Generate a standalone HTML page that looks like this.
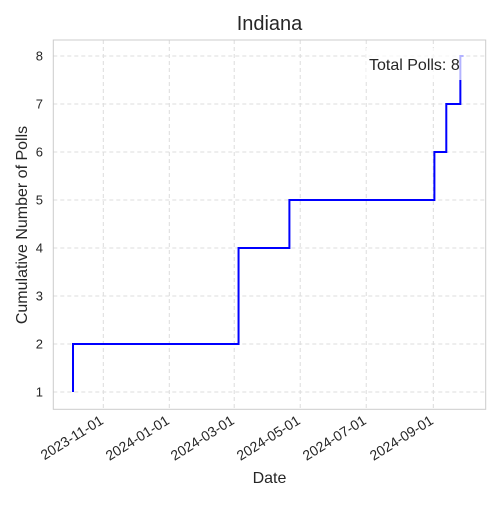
<!DOCTYPE html>
<html><head><meta charset="utf-8"><style>
body{margin:0;background:#fff;font-family:"Liberation Sans","DejaVu Sans",sans-serif}
</style></head><body>
<svg id="c" width="500" height="500" xmlns="http://www.w3.org/2000/svg">
<rect width="500" height="500" fill="#fff"/>
<g id="grid"></g>
<rect x="53.3" y="40" width="432.4" height="369.3" fill="none" stroke="#ccc" stroke-width="1"/>
<g id="ticks"></g>
<path id="line" fill="none" stroke="#0000ff" stroke-width="2"/>
<rect x="366" y="48" width="98" height="32" fill="#fff" fill-opacity="0.7"/>
<text x="369" y="70" font-size="16" fill="#262626">Total Polls: 8</text>
<text x="269.5" y="30" font-size="20" text-anchor="middle" fill="#262626">Indiana</text>
<text x="269.5" y="483" font-size="16" text-anchor="middle" fill="#262626">Date</text>
<text transform="translate(27,225) rotate(-90)" font-size="16" text-anchor="middle" fill="#262626">Cumulative Number of Polls</text>
</svg>
<script>
const pollDates=["2023-10-04","2023-10-04","2024-03-05","2024-03-05","2024-04-21","2024-09-02","2024-09-13","2024-09-26"];
const cumulative=[1,2,3,4,5,6,7,8];
const endDate="2024-09-29";
const xTickLabels=["2023-11-01","2024-01-01","2024-03-01","2024-05-01","2024-07-01","2024-09-01"];
const yTicks=[1,2,3,4,5,6,7,8];
const NS="http://www.w3.org/2000/svg";
const d0=Date.parse("2023-11-01");
function X(d){return 103.3+(Date.parse(d)-d0)/86400000*1.082;}
function Y(v){return 392-(v-1)*48;}
const grid=document.getElementById('grid'),ticks=document.getElementById('ticks');
function mk(tag,attrs,parent){const e=document.createElementNS(NS,tag);for(const k in attrs)e.setAttribute(k,attrs[k]);parent.appendChild(e);return e;}
xTickLabels.forEach(t=>{
 const x=X(t);
 const g=mk('line',{x1:x,x2:x,y1:40,y2:409.3,stroke:'#dcdcdc','stroke-dasharray':'4,3'},grid);
 
 
 const tx=mk('text',{transform:`translate(${x+1},${423}) rotate(-32)`,'font-size':'14','text-anchor':'end',fill:'#262626'},ticks);
 tx.textContent=t;
 
 
});
yTicks.forEach(v=>{
 const y=Y(v);
 const g=mk('line',{x1:53.3,x2:485.7,y1:y,y2:y,stroke:'#dcdcdc','stroke-dasharray':'4,3'},grid);
 
 
 const tx=mk('text',{x:43,y:y+4.5,'font-size':'13','text-anchor':'end',fill:'#262626'},ticks);
 tx.textContent=v;
 
 
});
let d=`M${X(pollDates[0])},${Y(cumulative[0])}`;
for(let i=1;i<pollDates.length;i++){d+=` H${X(pollDates[i])} V${Y(cumulative[i])}`;}
d+=` H${X(endDate)}`;
document.getElementById('line').setAttribute('d',d);
</script>
</body></html>
